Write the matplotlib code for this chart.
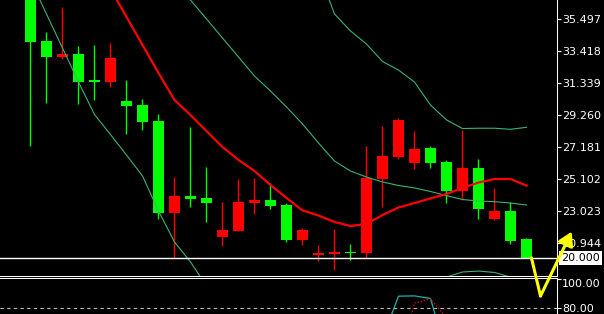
import numpy as np
import matplotlib
matplotlib.use("Agg")
from matplotlib import pyplot as plt
from matplotlib import transforms
from matplotlib.lines import Line2D
from matplotlib.patches import FancyArrowPatch

nan = np.nan

# candles, left to right (green = falling bar, red = rising bar)
open_ = [37.40, 34.09, 33.07, 33.24, 31.55, 31.44, 30.19, 29.93, 28.89, 22.93,
         24.02, 23.89, 21.37, 21.76, 23.58, 23.76, 23.43, 21.18, 20.20, 20.27,
         20.40, 20.33, 25.12, 26.57, 26.17, 27.14, 26.21, 24.34, 25.84, 22.52,
         23.04, 21.24]
high = [37.73, 34.67, 36.30, 33.76, 33.83, 33.96, 31.55, 30.32, 29.34, 25.23,
        28.52, 25.90, 23.63, 25.12, 25.19, 24.86, 23.54, 21.96, 20.83, 21.87,
        20.90, 27.27, 28.57, 29.09, 28.24, 27.27, 26.36, 28.31, 26.42, 24.54,
        23.63, 21.31]
low = [27.29, 30.08, 32.90, 30.01, 30.27, 31.12, 28.06, 28.32, 22.54, 20.01,
       23.32, 22.35, 20.79, 21.74, 22.87, 23.19, 21.05, 20.85, 19.79, 19.23,
       19.88, 20.02, 23.32, 26.43, 25.77, 25.86, 23.53, 23.76, 22.52, 22.46,
       20.90, 20.00]
close = [34.04, 33.07, 33.24, 31.44, 31.44, 32.98, 29.88, 28.84, 22.93, 24.02,
         23.84, 23.58, 21.81, 23.63, 23.76, 23.39, 21.18, 21.83, 20.31, 20.38,
         20.33, 25.19, 26.62, 28.96, 27.07, 26.17, 24.36, 25.84, 23.17, 23.04,
         21.11, 20.00]

# moving average (red) and the three green band lines
ma = [nan] * 5 + [37.47, 35.65, 33.83, 32.01, 30.25, 29.28, 28.24, 27.20, 26.36,
                  25.64, 24.73, 23.89, 23.08, 22.75, 22.33, 22.07, 22.20, 22.78,
                  23.27, 23.56, 23.86, 24.15, 24.54, 24.89, 25.12, 25.12, 24.69]
band_low = [38.05, 35.84, 33.63, 31.42, 29.31, 28.01, 26.68, 25.32, 23.04, 21.03,
            19.73, 18.17, 17.26, 16.94, 16.74, 16.61, 16.61, 16.74, 16.94, 16.61,
            16.48, 16.29, 16.74, 17.13, 17.59, 18.24, 18.75, 19.08, 19.14, 19.05,
            18.75, 18.43]
band_mid = [nan] * 9 + [38.05, 36.75, 35.52, 34.28, 33.05, 31.81, 30.84, 29.80,
                        28.70, 27.46, 26.29, 25.64, 25.25, 24.93, 24.70, 24.54,
                        24.31, 24.04, 23.79, 23.69, 23.65, 23.56, 23.43]
band_up = [nan] * 18 + [38.64, 35.84, 34.74, 33.89, 32.76, 32.20, 31.42, 29.93,
                        28.96, 28.40, 28.42, 28.42, 28.35, 28.48]

# stochastic in the lower window (only the top of it is visible)
stoch_main = [nan] * 22 + [58.7, 88.3, 88.5, 86.7, 47.9] + [nan] * 5
stoch_signal = [nan] * 23 + [39.5, 83.5, 86.3, 73.0] + [nan] * 5

price_ticks = [35.497, 33.418, 31.339, 29.260, 27.181, 25.102, 23.023, 20.944]
last_price = 20.000
stoch_ticks = [100, 80]
stoch_labels = ['100.00', '80.00']

bars = np.arange(len(open_))
o = np.array(open_)
c = np.array(close)
colors = np.where(c < o, '#00ff00', '#ff0000')

W, H = 604, 314
fig = plt.figure(figsize=(W / 100, H / 100), dpi=100, facecolor='black')
# main window down to 275.5 px, stochastic window from 277.5 px (pixel rows kept crisp)
ax1 = fig.add_axes([0, (H - 275.5) / H, 556.5 / W, 275.5 / H])
ax2 = fig.add_axes([0, 0, 556.5 / W, (H - 277.5) / H])

for ax in (ax1, ax2):
    ax.set_facecolor('black')
    for s in ax.spines.values():
        s.set_visible(False)
    ax.spines['right'].set_visible(True)
    ax.spines['right'].set_color('white')
    ax.spines['right'].set_linewidth(0.75)
    ax.set_xlim(-1.906, 32.875)
    ax.set_xticks([])
    ax.yaxis.tick_right()
    ax.tick_params(axis='y', colors='white', length=3, width=0.8, pad=1.2, labelsize=8)

ax1.spines['bottom'].set_visible(True)
ax1.spines['bottom'].set_color('white')
ax1.spines['bottom'].set_linewidth(0.75)
ax2.spines['top'].set_visible(True)
ax2.spines['top'].set_color('white')
ax2.spines['top'].set_linewidth(0.75)

# price window
ax1.set_ylim(18.852, 36.751)
ax1.vlines(bars, low, high, colors=colors, lw=1.0, zorder=2)
ax1.bar(bars, np.maximum(np.abs(c - o), 0.05), bottom=np.minimum(o, c), width=0.6875,
        color=colors, linewidth=0, zorder=3)
ax1.plot(bars, band_low, color='#3cb371', lw=0.8, zorder=4)
ax1.plot(bars, band_mid, color='#3cb371', lw=0.8, zorder=4)
ax1.plot(bars, band_up, color='#3cb371', lw=0.8, zorder=4)
ax1.plot(bars, ma, color='#ff0000', lw=1.6, zorder=5)
ax1.axhline(last_price, color='white', lw=1.0, zorder=6)

ax1.set_yticks(price_ticks)
ax1.set_yticklabels(['%.3f' % t for t in price_ticks])

tr = transforms.blended_transform_factory(ax1.transAxes, ax1.transData)
ax1.text(1.008, last_price, '%.3f' % last_price, transform=tr, ha='left', va='center',
         color='black', fontsize=8, clip_on=False, zorder=7,
         bbox=dict(boxstyle='square,pad=0.18', fc='white', ec='none'))

# stochastic window
ax2.set_ylim(75.79, 101.4)
ax2.axhline(80, color='#c0c0c0', lw=0.8, linestyle=(0, (3, 3)))
ax2.plot(bars, stoch_main, color='#20b2aa', lw=0.9)
ax2.plot(bars, stoch_signal, color='#ff0000', lw=0.9, linestyle=(0, (1, 1.5)))
ax2.set_yticks(stoch_ticks)
ax2.set_yticklabels(['', stoch_labels[1]])
tr2 = transforms.blended_transform_factory(ax2.transAxes, ax2.transData)
ax2.text(1.0 + 5.5 / 556, 100, stoch_labels[0], transform=tr2, ha='left', va='top',
         color='white', fontsize=8, clip_on=False)

# yellow hand-drawn arrow
fig.add_artist(Line2D([31.31, 31.875], [20.0, 17.52], transform=ax1.transData,
                      color='#ffff00', lw=2.2, solid_capstyle='round', zorder=10))
fig.add_artist(FancyArrowPatch((31.875, 17.52), (33.825, 21.70), transform=ax1.transData,
                               arrowstyle='-|>,head_length=0.5,head_width=0.3',
                               mutation_scale=16, color='#ffff00', lw=2.2,
                               shrinkA=0, shrinkB=0, zorder=10))

fig.savefig('out.png', dpi=100, facecolor='black')
